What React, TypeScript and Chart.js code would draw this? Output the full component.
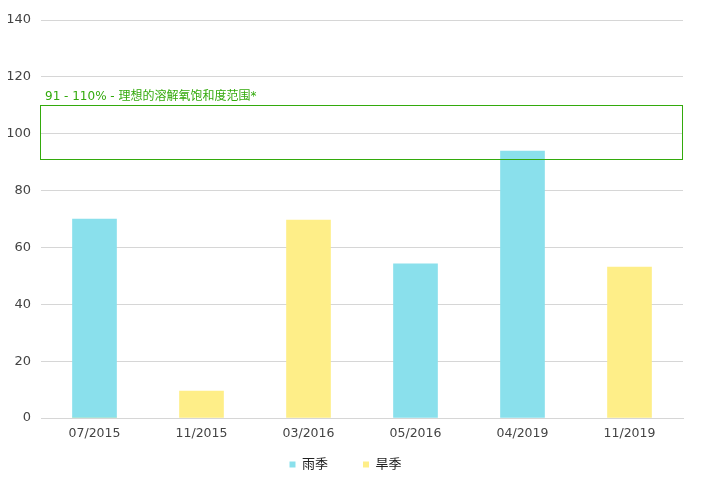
import { useEffect, useRef } from "react";
import { Chart, registerables } from "chart.js";

Chart.register(...registerables);

// sampling dates
const labels = ["07/2015", "11/2015", "03/2016", "05/2016", "04/2019", "11/2019"];
// dissolved oxygen saturation (%)
const rainySeason = [70, null, null, 54.2, 93.9, null];
const drySeason = [0.4, 9.5, 69.6, null, null, 53.1];
// ideal range band
const idealRange = [91, 110];
const idealLabel = "91 - 110% - 理想的溶解氧饱和度范围*";

const GREEN = "rgb(51, 170, 12)";
const FONT = "'DejaVu Sans', 'Noto Sans CJK SC', sans-serif";

const rangeBox = {
  id: "rangeBox",
  afterDatasetsDraw(chart: Chart) {
    const { ctx, chartArea, scales } = chart;
    const y = scales.y;
    const top = y.getPixelForValue(idealRange[1]);
    const bottom = y.getPixelForValue(idealRange[0]);
    ctx.save();
    ctx.strokeStyle = GREEN;
    ctx.lineWidth = 1;
    ctx.strokeRect(
      Math.round(chartArea.left) - 0.5,
      Math.round(top) + 0.5,
      Math.round(chartArea.right - chartArea.left),
      Math.round(bottom - top)
    );
    ctx.fillStyle = GREEN;
    ctx.font = "12px " + FONT;
    ctx.textBaseline = "bottom";
    ctx.textAlign = "left";
    ctx.fillText(idealLabel, chartArea.left + 4, top - 2);
    ctx.restore();
  },
};

const DOChart = () => {
  const canvasRef = useRef<HTMLCanvasElement>(null);

  useEffect(() => {
    if (!canvasRef.current) return;
    const chart = new Chart(canvasRef.current, {
      type: "bar",
      data: {
        labels: labels,
        datasets: [
          {
            label: "雨季",
            data: rainySeason,
            backgroundColor: "rgb(138, 224, 236)",
            borderWidth: 0,
            barThickness: 44,
            grouped: false,
          },
          {
            label: "旱季",
            data: drySeason,
            backgroundColor: "rgb(254, 238, 136)",
            borderWidth: 0,
            barThickness: 44,
            grouped: false,
          },
        ],
      },
      options: {
        animation: false,
        responsive: true,
        maintainAspectRatio: false,
        layout: { padding: { top: 0, right: 11, left: 0, bottom: 9 } },
        plugins: {
          legend: {
            position: "bottom",
            labels: {
              usePointStyle: true,
              pointStyle: "rect",
              boxWidth: 6,
              boxHeight: 6,
              padding: 9,
              color: "#222",
              font: { family: FONT, size: 13 },
              generateLabels(chart: Chart) {
                const items = Chart.defaults.plugins.legend.labels.generateLabels(chart);
                // widen the gap between the two entries
                items.forEach((it: any, i: number) => {
                  if (i < items.length - 1) it.text = it.text + "\u2003\u2003";
                });
                return items;
              },
            },
          },
          tooltip: { enabled: false },
        },
        scales: {
          x: {
            grid: { display: false, drawTicks: false },
            border: { color: "#d6d6d6" },
            ticks: { color: "#444", font: { family: FONT, size: 12.5 }, padding: 8 },
          },
          y: {
            min: 0,
            max: 140,
            afterFit(scale: any) {
              scale.width = 33;
              scale.paddingTop = 12;
            },
            border: { display: false },
            grid: { color: "#d6d6d6", drawTicks: false },
            ticks: { stepSize: 20, color: "#444", font: { family: FONT, size: 13 }, padding: 10 },
          },
        },
      },
      plugins: [rangeBox],
    });
    return () => chart.destroy();
  }, []);

  return (
    <div style={{ position: "relative", width: "686px", height: "482px" }}>
      <canvas ref={canvasRef}></canvas>
    </div>
  );
};

export default function App() {
  return <DOChart />;
}
